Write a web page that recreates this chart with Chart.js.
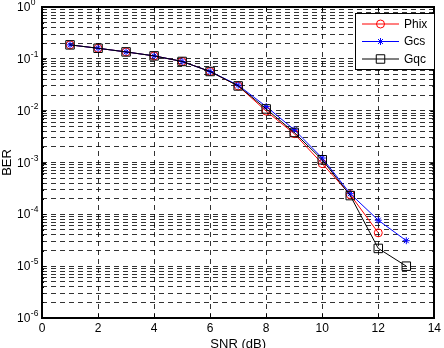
<!DOCTYPE html>
<html>
<head>
<meta charset="utf-8">
<script src="https://cdn.jsdelivr.net/npm/chart.js@4.4.0/dist/chart.umd.min.js"></script>
<style>
  html, body { margin: 0; padding: 0; background: #fff; }
  #wrap { width: 444px; height: 348px; }
</style>
</head>
<body>
<div id="wrap"><canvas id="c" width="444" height="348"></canvas></div>
<script>
// values
const snr  = [1, 2, 3, 4, 5, 6, 7, 8, 9, 10, 11, 12, 13];
const phix = [0.186, 0.160, 0.136, 0.114, 0.089, 0.057, 0.030, 0.0098, 0.0036, 0.00095, 0.00024, 0.000044];
const gcs  = [0.186, 0.160, 0.136, 0.114, 0.089, 0.057, 0.031, 0.0120, 0.0043, 0.00122, 0.00025, 0.000077, 0.000031];
const gqc  = [0.186, 0.160, 0.136, 0.114, 0.089, 0.057, 0.030, 0.0108, 0.0038, 0.00113, 0.00023, 0.000022, 0.0000100];
const seriesNames = ['Phix', 'Gcs', 'Gqc'];
const xTicks = [0, 2, 4, 6, 8, 10, 12, 14];
const berDecades = [-6, -5, -4, -3, -2, -1, 0];
const mantissas = [1, 2, 3, 4, 5, 6, 7, 8, 9];

const FONT = '"Liberation Sans", Arial, sans-serif';

// every grid position of the log axis (1..9 per decade)
const berGrid = [];
berDecades.forEach(e => {
  if (e === 0) { berGrid.push({ value: 1, major: true }); return; }
  mantissas.forEach(m => berGrid.push({ value: m * Math.pow(10, e), major: m === 1 }));
});

function drawMarker(ctx, style, r, cx, cy) {
  ctx.beginPath();
  if (style === 'circle') {
    ctx.arc(cx, cy, r, 0, Math.PI * 2);
  } else if (style === 'rect') {
    const s = r * Math.SQRT1_2;
    ctx.rect(cx - s, cy - s, 2 * s, 2 * s);
  } else if (style === 'star') {
    const d = r * Math.SQRT1_2;
    ctx.moveTo(cx - r, cy); ctx.lineTo(cx + r, cy);
    ctx.moveTo(cx, cy - r); ctx.lineTo(cx, cy + r);
    ctx.moveTo(cx - d, cy - d); ctx.lineTo(cx + d, cy + d);
    ctx.moveTo(cx - d, cy + d); ctx.lineTo(cx + d, cy - d);
  }
  ctx.stroke();
}

const matlabAxes = {
  id: 'matlabAxes',
  afterDatasetsDraw(chart) {
    const { ctx, chartArea: a, scales: { x, y } } = chart;
    ctx.save();
    ctx.strokeStyle = '#000';
    ctx.lineWidth = 1;
    ctx.setLineDash([]);
    ctx.beginPath();
    xTicks.forEach(v => {
      const px = Math.round(x.getPixelForValue(v)) + 0.5;
      ctx.moveTo(px, a.bottom); ctx.lineTo(px, a.bottom - 4);
      ctx.moveTo(px, a.top); ctx.lineTo(px, a.top + 4);
    });
    berGrid.forEach(t => {
      const py = Math.round(y.getPixelForValue(t.value)) + 0.5;
      const len = t.major ? 4 : 2;
      ctx.moveTo(a.left, py); ctx.lineTo(a.left + len, py);
      ctx.moveTo(a.right, py); ctx.lineTo(a.right - len, py);
    });
    ctx.stroke();

    // box
    ctx.lineWidth = 2;
    ctx.strokeRect(Math.round(a.left), Math.round(a.top), Math.round(a.width), Math.round(a.height));

    // y tick labels 10^n
    ctx.fillStyle = '#000';
    ctx.textAlign = 'left';
    ctx.textBaseline = 'alphabetic';
    berDecades.forEach(e => {
      const py = y.getPixelForValue(Math.pow(10, e));
      ctx.font = '12px ' + FONT;
      ctx.fillText('10', 17, py + 4);
      const w = ctx.measureText('10').width;
      ctx.font = '8.5px ' + FONT;
      ctx.fillText(String(e), 17 + w + 0.5, py - 2);
    });

    // axis titles
    ctx.font = '13px ' + FONT;
    ctx.textAlign = 'center';
    ctx.fillText('SNR (dB)', (a.left + a.right) / 2, 348);
    ctx.save();
    ctx.translate(11, (a.top + a.bottom) / 2);
    ctx.rotate(-Math.PI / 2);
    ctx.fillText('BER', 0, 0);
    ctx.restore();

    // legend
    const lx = 355, ly = 13, lw = 79, lh = 56;
    ctx.fillStyle = '#fff';
    ctx.fillRect(lx, ly, lw, lh);
    ctx.lineWidth = 1;
    ctx.strokeStyle = '#000';
    ctx.strokeRect(lx + 0.5, ly + 0.5, lw, lh);
    const rowY = [24, 41.5, 59];
    chart.data.datasets.forEach((ds, i) => {
      const ry = rowY[i];
      ctx.strokeStyle = ds.borderColor;
      ctx.lineWidth = 1;
      ctx.beginPath();
      ctx.moveTo(362, ry); ctx.lineTo(399, ry);
      ctx.stroke();
      drawMarker(ctx, ds.pointStyle, ds.pointRadius, 380.5, ry);
      ctx.fillStyle = '#000';
      ctx.font = '12px ' + FONT;
      ctx.textAlign = 'left';
      ctx.textBaseline = 'middle';
      ctx.fillText(ds.label, 404, ry + 0.5);
    });
    ctx.restore();
  }
};

const toPoints = vals => vals.map((v, i) => ({ x: snr[i], y: v }));

new Chart(document.getElementById('c'), {
  type: 'line',
  data: {
    datasets: [
      {
        label: seriesNames[0], data: toPoints(phix), order: 2,
        borderColor: '#ff0000', borderWidth: 1, pointStyle: 'circle', pointRadius: 4,
        pointBorderColor: '#ff0000', pointBackgroundColor: 'rgba(0,0,0,0)', pointBorderWidth: 1
      },
      {
        label: seriesNames[1], data: toPoints(gcs), order: 1,
        borderColor: '#0000ff', borderWidth: 1, pointStyle: 'star', pointRadius: 3.5,
        pointBorderColor: '#0000ff', pointBackgroundColor: 'rgba(0,0,0,0)', pointBorderWidth: 1
      },
      {
        label: seriesNames[2], data: toPoints(gqc), order: 0,
        borderColor: '#000000', borderWidth: 1, pointStyle: 'rect', pointRadius: 6,
        pointBorderColor: '#000000', pointBackgroundColor: 'rgba(0,0,0,0)', pointBorderWidth: 1
      }
    ]
  },
  options: {
    responsive: false,
    animation: false,
    devicePixelRatio: 1,
    layout: { padding: { left: 0, right: 8, top: 6, bottom: 0 } },
    plugins: { legend: { display: false }, tooltip: { enabled: false } },
    scales: {
      x: {
        type: 'linear', min: 0, max: 14,
        afterBuildTicks: axis => { axis.ticks = xTicks.map(v => ({ value: v })); },
        afterFit: axis => { axis.height = 30; },
        ticks: { color: '#000', font: { family: FONT, size: 12 }, padding: 3, autoSkip: false, maxRotation: 0 },
        grid: { color: 'rgba(0,0,0,0.8)', lineWidth: 1, drawTicks: false },
        border: { display: false, dash: [5, 4] }
      },
      y: {
        type: 'logarithmic', min: 1e-6, max: 1,
        afterBuildTicks: axis => { axis.ticks = berGrid.map(t => ({ value: t.value, major: t.major })); },
        afterFit: axis => { axis.width = 42; },
        ticks: { display: false },
        grid: { color: 'rgba(0,0,0,0.8)', lineWidth: 1, drawTicks: false },
        border: { display: false, dash: [5, 4] }
      }
    }
  },
  plugins: [matlabAxes]
});
</script>
</body>
</html>
